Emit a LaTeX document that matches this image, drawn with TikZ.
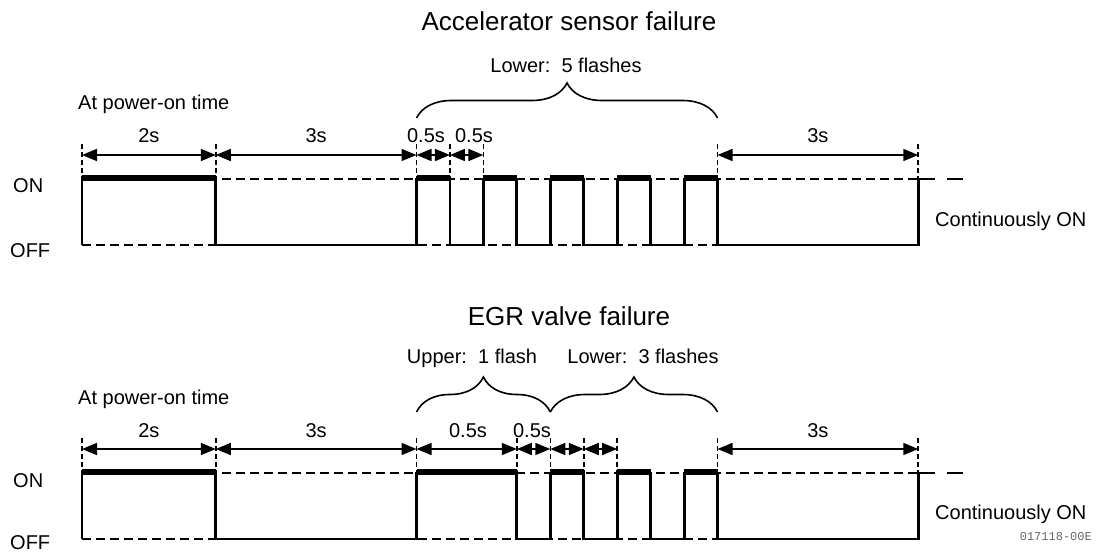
\documentclass[tikz,border=0pt]{standalone}
\usepackage{fontspec}
\setmainfont{Liberation Sans}
\newfontfamily\codefont{Liberation Mono}
\usetikzlibrary{arrows.meta,decorations.pathreplacing}
\newcommand\tx[1]{82+66.9*(#1)}
\begin{document}
\begin{tikzpicture}[x=1pt,y=-1pt,
  refline/.style={line width=1.7pt,dash pattern=on 9pt off 5pt},
  tickline/.style={line width=1.6pt,dash pattern=on 5pt off 3pt},
  sig/.style={line width=2.9pt,line join=miter},
  onbar/.style={line width=6.5pt},
  contline/.style={line width=2.8pt,dash pattern=on 17pt off 12pt},
  dimarrow/.style={line width=1.6pt,{Triangle[length=15pt,width=12pt]}-{Triangle[length=15pt,width=12pt]}},
  lbl/.style={font=\fontsize{20}{24}\selectfont,inner sep=0pt},
  ttl/.style={font=\fontsize{26}{30}\selectfont,inner sep=0pt},
  bracestyle/.style={line width=1.6pt,decorate,decoration={brace,amplitude=35pt}}
]
\useasboundingbox (0,0) rectangle (1097,553);

% ================= Top row =================
\node[ttl,anchor=base] (title1) at (569,31) {Accelerator sensor failure};
\node[lbl,anchor=base] (lower1) at (566,73) {Lower:\ \ 5 flashes};
\node[lbl,anchor=base west] (pwr1) at (78,110) {At power-on time};
\node[lbl,anchor=base west] (on1) at (13,193) {ON};
\node[lbl,anchor=base west] (off1) at (10,258) {OFF};
\node[lbl,anchor=base west] (cont1) at (935,227) {Continuously ON};

\foreach \t/\n in {0/a,2/b,5/c,5.5/d,6/e,9.5/f,12.5/g}{
  \coordinate (T1\n) at ({\tx{\t}},155);
  \draw[tickline] ({\tx{\t}},144) -- ({\tx{\t}},245);
}
\draw[refline] ({\tx{0}},179) -- ({\tx{12.5}},179);
\draw[refline] ({\tx{0}},245) -- ({\tx{12.5}},245);

\draw[sig] ({\tx{0}},245) -- ({\tx{0}},179) -- ({\tx{2}},179) -- ({\tx{2}},245)
  -- ({\tx{5}},245) -- ({\tx{5}},179) -- ({\tx{5.5}},179) -- ({\tx{5.5}},245)
  -- ({\tx{6}},245) -- ({\tx{6}},179) -- ({\tx{6.5}},179) -- ({\tx{6.5}},245)
  -- ({\tx{7}},245) -- ({\tx{7}},179) -- ({\tx{7.5}},179) -- ({\tx{7.5}},245)
  -- ({\tx{8}},245) -- ({\tx{8}},179) -- ({\tx{8.5}},179) -- ({\tx{8.5}},245)
  -- ({\tx{9}},245) -- ({\tx{9}},179) -- ({\tx{9.5}},179) -- ({\tx{9.5}},245)
  -- ({\tx{12.5}},245) -- ({\tx{12.5}},179);
\foreach \a/\b in {0/2,5/5.5,6/6.5,7/7.5,8/8.5,9/9.5}
  \draw[onbar] ({\tx{\a}},178) -- ({\tx{\b}},178);
\draw[contline] ({\tx{12.5}},179) -- ({\tx{12.5}+45},179);

\draw[dimarrow] (T1a) -- (T1b);
\draw[dimarrow] (T1b) -- (T1c);
\draw[dimarrow] (T1c) -- (T1d);
\draw[dimarrow] (T1d) -- (T1e);
\draw[dimarrow] (T1f) -- (T1g);
\node[lbl,anchor=base] (l1a) at ({\tx{1}},143) {2s};
\node[lbl,anchor=base] (l1b) at ({\tx{3.5}},143) {3s};
\node[lbl,anchor=base] (l1c) at (426,143) {0.5s};
\node[lbl,anchor=base] (l1d) at (474,143) {0.5s};
\node[lbl,anchor=base] (l1e) at ({\tx{11}},143) {3s};

\draw[bracestyle] ({\tx{5}},118) -- ({\tx{9.5}},118);

% ================= Bottom row =================
\begin{scope}[yshift=-294pt]
\node[ttl,anchor=base] (title2) at (569,31) {EGR valve failure};
\node[lbl,anchor=base] (upper2) at (472,69) {Upper:\ \ 1 flash};
\node[lbl,anchor=base] (lower2) at (643,69) {Lower:\ \ 3 flashes};
\node[lbl,anchor=base west] (pwr2) at (78,110) {At power-on time};
\node[lbl,anchor=base west] (on2) at (13,193) {ON};
\node[lbl,anchor=base west] (off2) at (10,255) {OFF};
\node[lbl,anchor=base west] (cont2) at (935,225) {Continuously ON};

\foreach \t/\n in {0/a,2/b,5/c,6.5/d,7/e,7.5/f,8/g,9.5/h,12.5/i}{
  \coordinate (T2\n) at ({\tx{\t}},155);
  \draw[tickline] ({\tx{\t}},144) -- ({\tx{\t}},245);
}
\draw[refline] ({\tx{0}},179) -- ({\tx{12.5}},179);
\draw[refline] ({\tx{0}},245) -- ({\tx{12.5}},245);

\draw[sig] ({\tx{0}},245) -- ({\tx{0}},179) -- ({\tx{2}},179) -- ({\tx{2}},245)
  -- ({\tx{5}},245) -- ({\tx{5}},179) -- ({\tx{6.5}},179) -- ({\tx{6.5}},245)
  -- ({\tx{7}},245) -- ({\tx{7}},179) -- ({\tx{7.5}},179) -- ({\tx{7.5}},245)
  -- ({\tx{8}},245) -- ({\tx{8}},179) -- ({\tx{8.5}},179) -- ({\tx{8.5}},245)
  -- ({\tx{9}},245) -- ({\tx{9}},179) -- ({\tx{9.5}},179) -- ({\tx{9.5}},245)
  -- ({\tx{12.5}},245) -- ({\tx{12.5}},179);
\foreach \a/\b in {0/2,5/6.5,7/7.5,8/8.5,9/9.5}
  \draw[onbar] ({\tx{\a}},178) -- ({\tx{\b}},178);
\draw[contline] ({\tx{12.5}},179) -- ({\tx{12.5}+45},179);

\draw[dimarrow] (T2a) -- (T2b);
\draw[dimarrow] (T2b) -- (T2c);
\draw[dimarrow] (T2c) -- (T2d);
\draw[dimarrow] (T2d) -- (T2e);
\draw[dimarrow] (T2e) -- (T2f);
\draw[dimarrow] (T2f) -- (T2g);
\draw[dimarrow] (T2h) -- (T2i);
\node[lbl,anchor=base] (l2a) at ({\tx{1}},143) {2s};
\node[lbl,anchor=base] (l2b) at ({\tx{3.5}},143) {3s};
\node[lbl,anchor=base] (l2c) at (468,143) {0.5s};
\node[lbl,anchor=base] (l2d) at (532,143) {0.5s};
\node[lbl,anchor=base] (l2e) at ({\tx{11}},143) {3s};

\draw[bracestyle] ({\tx{5}},118) -- ({\tx{7}},118);
\draw[bracestyle] ({\tx{7}},118) -- ({\tx{9.5}},118);
\end{scope}

\node[anchor=base east,inner sep=0pt,font=\codefont\fontsize{12}{14}\selectfont,text=black!60] (code) at (1092,540) {017118-00E};
\end{tikzpicture}
\end{document}
